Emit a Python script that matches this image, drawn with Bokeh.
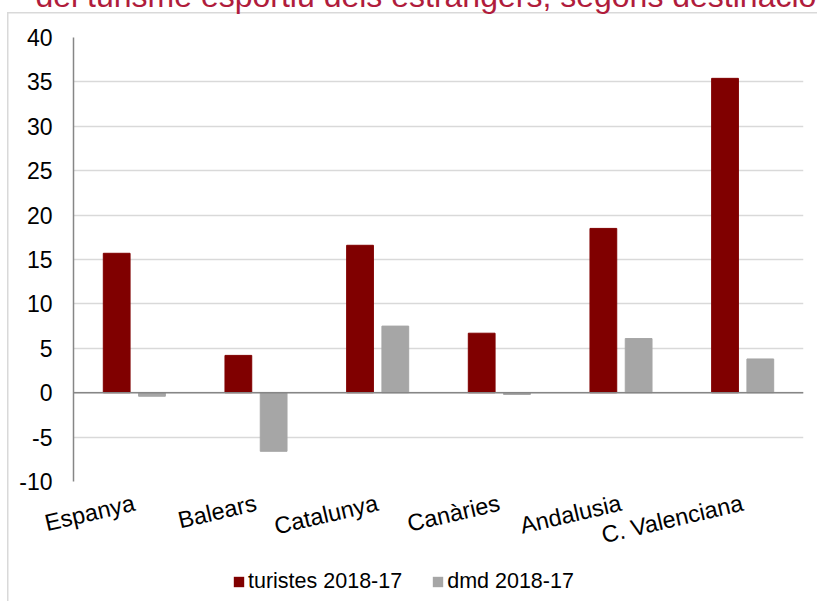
from bokeh.plotting import figure
from bokeh.layouts import column
from bokeh.models import (ColumnDataSource, FactorRange, Range1d, FixedTicker, Span,
                          Legend, LegendItem, PrintfTickFormatter)
from bokeh.transform import dodge
from bokeh.embed import file_html
from bokeh.resources import INLINE

categories = ["Espanya", "Balears", "Catalunya", "Canàries", "Andalusia", "C. Valenciana"]
turistes = [15.7, 4.2, 16.6, 6.7, 18.5, 35.4]
dmd = [-0.4, -6.6, 7.5, -0.2, 6.1, 3.8]
y_ticks = [-10, -5, 0, 5, 10, 15, 20, 25, 30, 35, 40]
series_names = ["turistes 2018-17", "dmd 2018-17"]
title_text = "del turisme esportiu dels estrangers, segons destinació"

FONT = "Liberation Sans"
C_TUR = "#800000"
C_DMD = "#a6a6a6"
GRID = "#d9d9d9"

src = ColumnDataSource(data=dict(cat=categories, turistes=turistes, dmd=dmd))

# ---------------- main chart ----------------
p = figure(
    width=825, height=613,
    x_range=FactorRange(*categories),
    y_range=Range1d(-10, 40),
    output_backend="svg", toolbar_location=None,
    min_border_left=81, min_border_right=14, min_border_top=85, min_border_bottom=84,
)
p.outline_line_color = None
p.background_fill_color = "white"
p.border_fill_alpha = 0

r1 = p.vbar(x=dodge("cat", -0.145, range=p.x_range), top="turistes", width=0.22,
            source=src, fill_color=C_TUR, line_color=C_TUR)
r2 = p.vbar(x=dodge("cat", 0.145, range=p.x_range), top="dmd", width=0.22,
            source=src, fill_color=C_DMD, line_color=C_DMD)

p.xgrid.grid_line_color = None
p.ygrid.grid_line_color = GRID
p.ygrid.grid_line_width = 1.5

zero = Span(location=0, dimension="width", line_color="#868686", line_width=1.5)
p.add_layout(zero)

p.yaxis.ticker = FixedTicker(ticks=y_ticks)
p.yaxis.formatter = PrintfTickFormatter(format="%d")
p.yaxis.axis_line_color = "#868686"
p.yaxis.axis_line_width = 1.5
p.yaxis.major_tick_line_color = None
p.yaxis.minor_tick_line_color = None
p.yaxis.major_tick_out = 0
p.yaxis.major_tick_in = 0
p.yaxis.major_label_standoff = 21
p.yaxis.major_label_text_font = FONT
p.yaxis.major_label_text_font_size = "23px"
p.yaxis.major_label_text_color = "#000000"

p.xaxis.axis_line_color = None
p.xaxis.major_tick_line_color = None
p.xaxis.minor_tick_line_color = None
p.xaxis.major_tick_out = 0
p.xaxis.major_tick_in = 0
p.xaxis.major_label_orientation = 0.23
p.xaxis.major_label_standoff = 21
p.xaxis.major_label_text_font = FONT
p.xaxis.major_label_text_font_size = "23.5px"
p.xaxis.major_label_text_color = "#000000"

# partially visible title (its top is cut off by the page edge, as in the reference)
p.title.text = title_text
p.title.text_font = FONT
p.title.text_font_size = "32px"
p.title.text_font_style = "normal"
p.title.text_color = "#b01c3c"
p.title.align = "left"
p.title.vertical_align = "top"
p.title.offset = -38
p.title.standoff = 44

# ---------------- legend strip ----------------
lf = figure(width=825, height=36, x_range=Range1d(0, 825), y_range=Range1d(0, 36),
            output_backend="svg", toolbar_location=None,
            x_axis_location=None, y_axis_location=None,
            min_border_left=0, min_border_right=0, min_border_top=0, min_border_bottom=0)
lf.outline_line_color = None
lf.xgrid.visible = False
lf.ygrid.visible = False
lf.background_fill_alpha = 0
lf.border_fill_alpha = 0

# zero-size key glyphs, only used to give the legend its colour swatches
key_src = ColumnDataSource(data=dict(x=[0], top=[0]))
k1 = lf.vbar(x="x", top="top", bottom=0, width=0, source=key_src,
             fill_color=C_TUR, line_color=None)
k2 = lf.vbar(x="x", top="top", bottom=0, width=0, source=key_src,
             fill_color=C_DMD, line_color=None)

legend = Legend(items=[LegendItem(label=series_names[0], renderers=[k1]),
                       LegendItem(label=series_names[1], renderers=[k2])],
                orientation="horizontal", location=(159, 7))
legend.glyph_width = 13
legend.glyph_height = 13
legend.label_standoff = 3
legend.spacing = 29
legend.padding = 0
legend.margin = 0
legend.border_line_color = None
legend.background_fill_alpha = 0
legend.label_text_font = FONT
legend.label_text_font_size = "21.5px"
legend.label_text_color = "#000000"
lf.add_layout(legend)

border_bg = ("linear-gradient(#d9d9d9,#d9d9d9) 15px 60px / 1.5px 100% no-repeat, "
             "linear-gradient(#d9d9d9,#d9d9d9) 15px 60px / 100% 1.5px no-repeat")

layout = column(p, lf, spacing=0,
                styles={"margin-top": "-48px", "margin-left": "-8px", "background": border_bg})

open("out.html", "w").write(file_html(layout, INLINE))
